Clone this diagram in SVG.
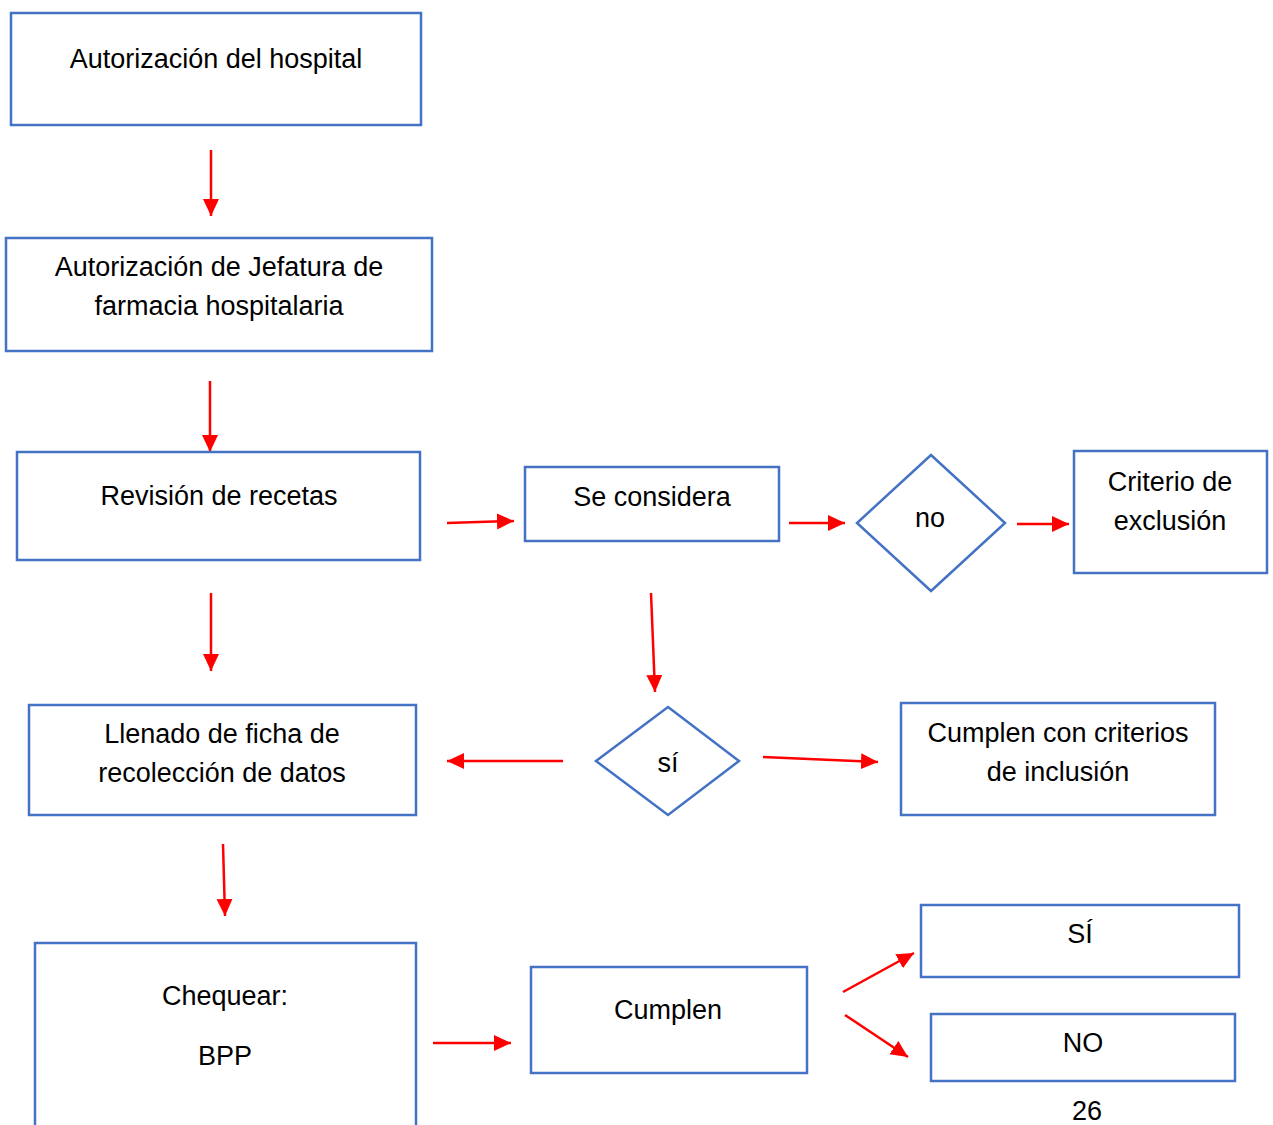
<svg xmlns="http://www.w3.org/2000/svg" width="1273" height="1125" viewBox="0 0 1273 1125">
<style>
.box{fill:#fff;stroke:#4472C4;stroke-width:2.5}
.t{font-family:"Liberation Sans",Arial,sans-serif;font-size:27px;fill:#000;text-anchor:middle}
.c{stroke:#FF0000;stroke-width:2.5;fill:none;marker-end:url(#ah)}
</style>
<defs>
<marker id="ah" markerUnits="userSpaceOnUse" markerWidth="18" markerHeight="17" refX="17" refY="8" orient="auto">
<path d="M0,0 L17,8 L0,16 z" fill="#FF0000"/>
</marker>
</defs>
<rect width="1273" height="1125" fill="#fff"/>
<g id="connectors">
<line class="c" x1="211" y1="150" x2="211" y2="216"/>
<line class="c" x1="210" y1="381" x2="210" y2="452"/>
<line class="c" x1="211" y1="593" x2="211" y2="671"/>
<line class="c" x1="447" y1="523" x2="514" y2="521"/>
<line class="c" x1="789" y1="523" x2="845" y2="523"/>
<line class="c" x1="1017" y1="524" x2="1069" y2="524"/>
<line class="c" x1="651" y1="593" x2="655" y2="692"/>
<line class="c" x1="563" y1="761" x2="447" y2="761"/>
<line class="c" x1="763" y1="757" x2="878" y2="762"/>
<line class="c" x1="223" y1="844" x2="225" y2="916"/>
<line class="c" x1="433" y1="1043" x2="511" y2="1043"/>
<line class="c" x1="843" y1="992" x2="914" y2="953"/>
<line class="c" x1="845" y1="1015" x2="908" y2="1057"/>
</g>
<g id="n1"><rect class="box" x="11" y="13" width="410" height="112"/><text class="t" x="216" y="68">Autorización del hospital</text></g>
<g id="n2"><rect class="box" x="6" y="238" width="426" height="113"/><text class="t" x="219" y="276">Autorización de Jefatura de</text><text class="t" x="219" y="315">farmacia hospitalaria</text></g>
<g id="n3"><rect class="box" x="17" y="452" width="403" height="108"/><text class="t" x="219" y="505">Revisión de recetas</text></g>
<g id="n4"><rect class="box" x="525" y="467" width="254" height="74"/><text class="t" x="652" y="506">Se considera</text></g>
<g id="n5"><polygon class="box" points="931,455 1005,523 931,591 857,523"/><text class="t" x="930" y="527">no</text></g>
<g id="n6"><rect class="box" x="1074" y="451" width="193" height="122"/><text class="t" x="1170" y="491">Criterio de</text><text class="t" x="1170" y="530">exclusión</text></g>
<g id="n7"><polygon class="box" points="668,707 739,761 668,815 596,761"/><text class="t" x="668" y="772">sí</text></g>
<g id="n8"><rect class="box" x="29" y="705" width="387" height="110"/><text class="t" x="222" y="743">Llenado de ficha de</text><text class="t" x="222" y="782">recolección de datos</text></g>
<g id="n9"><rect class="box" x="901" y="703" width="314" height="112"/><text class="t" x="1058" y="742">Cumplen con criterios</text><text class="t" x="1058" y="781">de inclusión</text></g>
<g id="n10"><rect class="box" x="35" y="943" width="381" height="200"/><text class="t" x="225" y="1005">Chequear:</text><text class="t" x="225" y="1065">BPP</text></g>
<g id="n11"><rect class="box" x="531" y="967" width="276" height="106"/><text class="t" x="668" y="1019">Cumplen</text></g>
<g id="n12"><rect class="box" x="921" y="905" width="318" height="72"/><text class="t" x="1080" y="943">SÍ</text></g>
<g id="n13"><rect class="box" x="931" y="1014" width="304" height="67"/><text class="t" x="1083" y="1052">NO</text></g>
<text class="t" x="1087" y="1120">26</text>
</svg>
